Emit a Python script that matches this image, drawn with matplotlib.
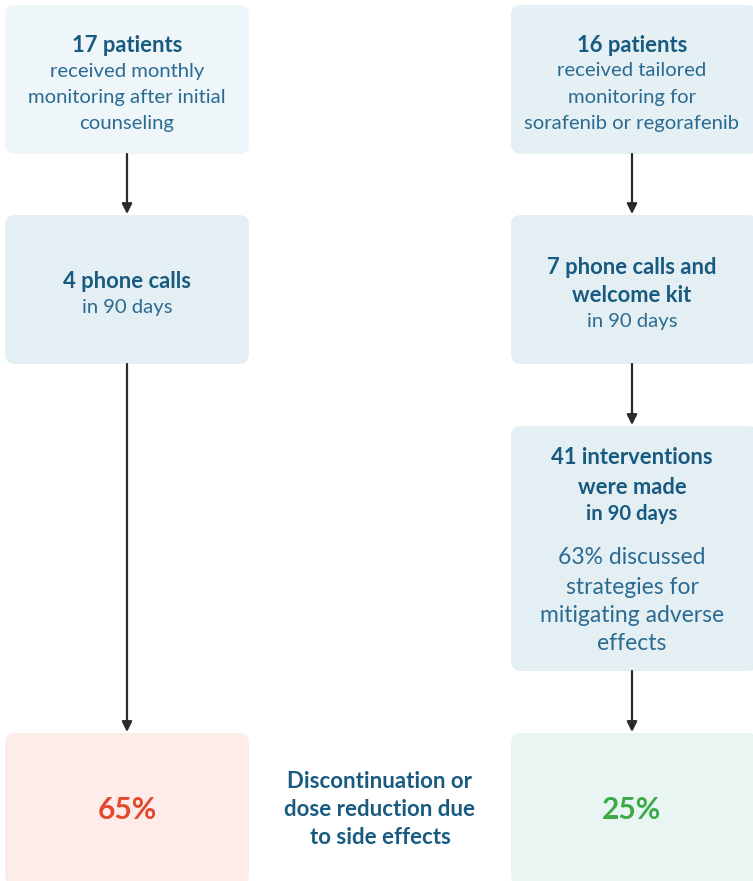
import matplotlib
matplotlib.use("Agg")
import matplotlib.pyplot as plt
from matplotlib.patches import FancyBboxPatch

W, H = 753, 881
plt.rcParams['font.family'] = ['Lato', 'DejaVu Sans']

# Boxes: (x0, y0, x1, y1, color)
boxes = [
    (5, 5, 249, 154, "#EEF6FA"),
    (5, 215, 249, 364, "#E4EFF4"),
    (5, 733, 249, 886, "#FDECEA"),
    (511, 5, 758, 154, "#E5F0F5"),
    (511, 215, 758, 364, "#E4EFF4"),
    (511, 426, 758, 671, "#E4EFF4"),
    (511, 733, 758, 886, "#E8F5F2"),
]
arrows = [(127, 154, 215), (127, 364, 733), (632, 154, 215), (632, 364, 426), (632, 671, 733)]

DARK = "#185A80"
MID = "#2C6B91"
B = 15.8   # bold heading size
R = 14.6   # regular size
# texts: (x, y, text, size, weight, color)
texts = [
    (127, 44, "17 patients", B, "bold", DARK),
    (127, 70, "received monthly", R, "normal", MID),
    (127, 96, "monitoring after initial", R, "normal", MID),
    (127, 122, "counseling", R, "normal", MID),
    (632, 44, "16 patients", B, "bold", DARK),
    (632, 70, "received tailored", R, "normal", MID),
    (632, 96, "monitoring for", R, "normal", MID),
    (632, 122, "sorafenib or regorafenib", R, "normal", MID),
    (127, 280, "4 phone calls", B, "bold", DARK),
    (127, 306, "in 90 days", R, "normal", MID),
    (632, 266, "7 phone calls and", B, "bold", DARK),
    (632, 294, "welcome kit", B, "bold", DARK),
    (632, 320, "in 90 days", R, "normal", MID),
    (632, 457, "41 interventions", B, "bold", DARK),
    (632, 486, "were made", B, "bold", DARK),
    (632, 513, "in 90 days", 14.6, "bold", DARK),
    (632, 557, "63% discussed", 16.5, "normal", MID),
    (632, 587, "strategies for", 16.5, "normal", MID),
    (632, 615, "mitigating adverse", 16.5, "normal", MID),
    (632, 643, "effects", 16.5, "normal", MID),
    (380, 781, "Discontinuation or", 16.0, "bold", DARK),
    (380, 809, "dose reduction due", 16.0, "bold", DARK),
    (380, 837, "to side effects", 16.0, "bold", DARK),
    (127, 809, "65%", 21.5, "bold", "#E14A2D"),
    (632, 809, "25%", 21.5, "bold", "#3DAA47"),
]

fig = plt.figure(figsize=(W / 100, H / 100), dpi=100)
ax = fig.add_axes([0, 0, 1, 1])
ax.set_xlim(0, W)
ax.set_ylim(H, 0)
ax.axis("off")

r = 10
for x0, y0, x1, y1, c in boxes:
    ax.add_patch(FancyBboxPatch((x0 + r, y0 + r), (x1 - x0) - 2 * r, (y1 - y0) - 2 * r,
                                boxstyle=f"round,pad={r}", fc=c, ec="none"))

for x, ya, yb in arrows:
    ax.annotate("", xy=(x, yb - 1), xytext=(x, ya),
                arrowprops=dict(arrowstyle="-|>,head_length=0.6,head_width=0.3",
                                color="#2B2B2B", lw=1.6, shrinkA=0, shrinkB=0))

for x, y, t, s, w, c in texts:
    ax.text(x, y + 1, t, fontsize=s, fontweight=w, color=c, ha="center", va="center")

fig.savefig("out.png", dpi=100)
